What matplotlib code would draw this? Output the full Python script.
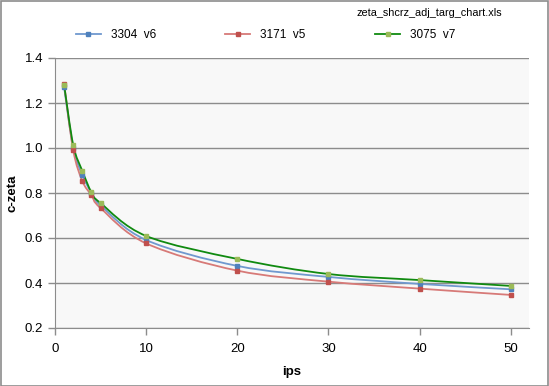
import numpy as np
import matplotlib
matplotlib.use('Agg')
from matplotlib import pyplot as plt
from matplotlib.path import Path
from matplotlib.patches import PathPatch, Rectangle

plt.rcParams['font.family'] = ['Liberation Sans', 'DejaVu Sans']

#Chart data
ips = [1, 2, 3, 4, 5, 10, 20, 30, 40, 50]
zeta_3304_v6 = [1.270, 1.000, 0.880, 0.800, 0.745, 0.591, 0.476, 0.427, 0.396, 0.372]
zeta_3171_v5 = [1.285, 0.990, 0.853, 0.790, 0.733, 0.576, 0.455, 0.406, 0.375, 0.347]
zeta_3075_v7 = [1.280, 1.013, 0.898, 0.803, 0.755, 0.609, 0.507, 0.440, 0.413, 0.387]
series_names = ['3304  v6', '3171  v5', '3075  v7']
x_ticks = [0, 10, 20, 30, 40, 50]
y_ticks = [0.2, 0.4, 0.6, 0.8, 1.0, 1.2, 1.4]

series = [zeta_3304_v6, zeta_3171_v5, zeta_3075_v7]
line_cols = ['#7099cf', '#d77a78', '#108a10']
mark_cols = ['#4f81bd', '#c0504d', '#9bbb59']


def smooth_path(x, y):
    #Excel-like smoothed line: cubic bezier with catmull-rom control points
    pts = np.column_stack([x, y]).astype(float)
    n = len(pts)
    verts = [pts[0]]
    codes = [Path.MOVETO]
    for i in range(n - 1):
        p0 = pts[max(i - 1, 0)]
        p1 = pts[i]
        p2 = pts[i + 1]
        p3 = pts[min(i + 2, n - 1)]
        c1 = p1 + (p2 - p0) / 6.0
        c2 = p2 - (p3 - p1) / 6.0
        verts += [c1, c2, p2]
        codes += [Path.CURVE4] * 3
    return Path(verts, codes)


fig = plt.figure(figsize=(5.49, 3.86), dpi=100)
fig.patches.append(Rectangle((0.001, 0.001), 0.997, 0.996, transform=fig.transFigure,
                             fill=False, edgecolor='#8c8c8c', linewidth=1.2))

ax = fig.add_axes([55/549, 1 - 328/386, 474/549, 270/386])
ax.set_facecolor('#f8f8f8')

for vals, lc, mc, name in zip(series, line_cols, mark_cols, series_names):
    ax.add_patch(PathPatch(smooth_path(ips, vals), facecolor='none',
                           edgecolor=lc, linewidth=1.3, zorder=3))
    ax.plot(ips, vals, linestyle='none', marker='s', markersize=3.2,
            color=mc, zorder=4)
    ax.plot([], [], color=lc, linewidth=1.3, marker='s', markersize=2.5,
            markerfacecolor=mc, markeredgecolor=mc, label=name)

ax.set_xlim(0, 52)
ax.set_ylim(0.2, 1.4)
ax.set_xticks(x_ticks)
ax.set_yticks(y_ticks)
ax.set_yticklabels(['%.1f' % v for v in y_ticks])
ax.grid(axis='y', color='#8c8c8c', linewidth=1)
ax.set_axisbelow(True)
for s in ['top', 'right']:
    ax.spines[s].set_visible(False)
for s in ['left', 'bottom']:
    ax.spines[s].set_color('#8c8c8c')
ax.tick_params(colors='#8c8c8c', labelcolor='black', labelsize=9.5, length=5, width=1)
ax.tick_params(axis='x', pad=6)

fig.text(12/549, 1 - 193/386, 'c-zeta', rotation=90, fontweight='bold',
         fontsize=9.5, ha='center', va='center')
fig.text(292/549, 1 - 372/386, 'ips', fontweight='bold', fontsize=9.5,
         ha='center', va='center')
fig.text(502/549, 1 - 13/386, 'zeta_shcrz_adj_targ_chart.xls', fontsize=7.8,
         ha='right', va='center')

fig.legend(loc='center left', bbox_to_anchor=(71/549, 1 - 35/386), ncol=3,
           frameon=False, fontsize=8.5, handlelength=2.1, handletextpad=0.85,
           columnspacing=5.9, borderaxespad=0)

plt.savefig('out.png', dpi=100)
